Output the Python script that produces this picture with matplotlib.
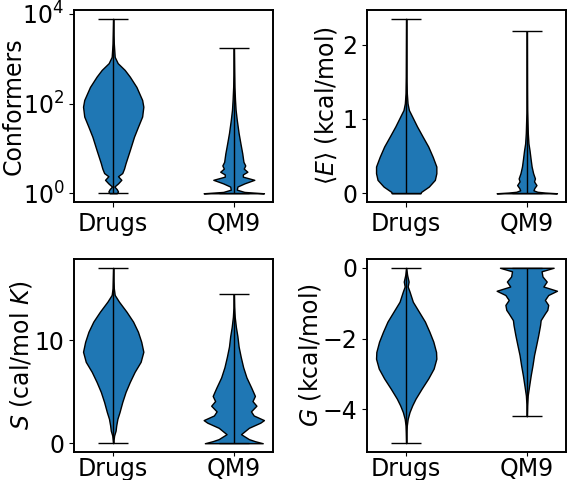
import numpy as np
import matplotlib
matplotlib.use("Agg")
import matplotlib.pyplot as plt

plt.rcParams['font.family'] = ['DejaVu Sans']
plt.rcParams['font.size'] = 17

categories = ["Drugs", "QM9"]

# --- Conformers (log10 of count) : density profiles ---
conf_drugs_y = [0.0, 0.04, 0.09, 0.15, 0.22, 0.30, 0.38, 0.45, 0.55, 0.67, 0.96, 1.26, 1.48,
                1.71, 1.93, 2.08, 2.37, 2.60, 2.75, 2.90, 3.04, 3.34, 3.60, 3.89]
conf_drugs_d = [0.12, 0.16, 0.12, 0.04, 0.16, 0.27, 0.16, 0.30, 0.36, 0.41, 0.55, 0.69, 0.82,
                0.96, 1.0, 0.96, 0.77, 0.55, 0.38, 0.15, 0.05, 0.02, 0.01, 0.0]
conf_qm9_y = [0.0, 0.03, 0.08, 0.15, 0.22, 0.30, 0.37, 0.42, 0.48, 0.55, 0.62, 0.70, 0.89,
              1.11, 1.34, 1.63, 1.86, 2.08, 2.38, 2.75, 3.23]
conf_qm9_d = [1.0, 0.35, 0.10, 0.12, 0.35, 0.68, 0.30, 0.30, 0.45, 0.33, 0.38, 0.32, 0.28,
              0.22, 0.16, 0.10, 0.06, 0.04, 0.02, 0.01, 0.0]

# --- <E> (kcal/mol) ---
e_drugs_y = [0.0, 0.02, 0.09, 0.18, 0.27, 0.36, 0.49, 0.63, 0.76, 0.90, 0.99, 1.08, 1.12,
             1.21, 1.35, 1.57, 2.35]
e_drugs_d = [0.47, 0.50, 0.75, 0.95, 1.0, 1.0, 0.88, 0.73, 0.55, 0.36, 0.25, 0.14, 0.09,
             0.045, 0.02, 0.01, 0.0]
e_qm9_y = [0.0, 0.01, 0.02, 0.04, 0.07, 0.11, 0.16, 0.20, 0.27, 0.36, 0.45, 0.58, 0.67,
           0.81, 0.99, 1.12, 1.40, 2.18]
e_qm9_d = [1.0, 0.6, 0.35, 0.22, 0.25, 0.32, 0.24, 0.27, 0.21, 0.16, 0.13, 0.09, 0.055,
           0.033, 0.02, 0.01, 0.005, 0.0]

# --- S (cal/mol K) ---
s_drugs_y = [0.0, 0.25, 0.74, 1.23, 1.72, 2.38, 3.03, 4.0, 4.99, 5.96, 6.94, 7.92, 8.9,
             9.87, 10.85, 11.83, 12.8, 13.78, 14.43, 15.08, 17.07]
s_drugs_d = [0.0, 0.01, 0.03, 0.08, 0.10, 0.14, 0.21, 0.30, 0.41, 0.55, 0.71, 0.91, 1.0,
             0.93, 0.82, 0.66, 0.44, 0.19, 0.05, 0.02, 0.0]
s_qm9_y = [0.0, 0.2, 0.4, 0.88, 1.5, 2.0, 2.25, 2.7, 3.1, 3.65, 4.1, 4.6, 5.4, 6.4, 7.4,
           8.4, 9.4, 10.4, 11.3, 12.3, 13.3, 14.47]
s_qm9_d = [0.96, 0.7, 0.5, 0.24, 0.5, 0.88, 1.0, 0.66, 0.57, 0.75, 0.62, 0.70, 0.58, 0.42,
           0.31, 0.23, 0.16, 0.12, 0.07, 0.03, 0.01, 0.0]

# --- G (kcal/mol) ---
g_drugs_y = [-4.96, -4.65, -4.46, -4.27, -4.08, -3.89, -3.70, -3.42, -3.13, -2.85, -2.57,
             -2.38, -2.09, -1.81, -1.52, -1.24, -0.96, -0.67, -0.53, -0.39, -0.20, 0.0]
g_drugs_d = [0.0, 0.01, 0.02, 0.05, 0.11, 0.20, 0.31, 0.51, 0.73, 0.91, 1.0, 0.99, 0.90,
             0.77, 0.62, 0.42, 0.22, 0.11, 0.05, 0.08, 0.03, 0.0]
g_qm9_y = [-4.2, -3.89, -3.61, -3.32, -3.04, -2.75, -2.47, -2.19, -1.9, -1.62, -1.48, -1.29,
           -1.19, -1.05, -0.91, -0.77, -0.65, -0.53, -0.39, -0.245, -0.1, 0.0]
g_qm9_d = [0.0, 0.01, 0.03, 0.08, 0.13, 0.19, 0.24, 0.31, 0.38, 0.44, 0.46, 0.60, 0.68,
           0.71, 0.60, 0.71, 1.0, 0.55, 0.66, 0.52, 0.49, 0.89]

panels = [
    (conf_drugs_y, conf_drugs_d, conf_qm9_y, conf_qm9_d, "Conformers",
     [0, 2, 4], ["$10^{0}$", "$10^{2}$", "$10^{4}$"]),
    (e_drugs_y, e_drugs_d, e_qm9_y, e_qm9_d, r"$\langle E\rangle$ (kcal/mol)",
     [0, 1, 2], ["0", "1", "2"]),
    (s_drugs_y, s_drugs_d, s_qm9_y, s_qm9_d, "$S$ (cal/mol $K$)",
     [0, 10], ["0", "10"]),
    (g_drugs_y, g_drugs_d, g_qm9_y, g_qm9_d, "$G$ (kcal/mol)",
     [-4, -2, 0], ["\u22124", "\u22122", "0"]),
]

W, H = 567, 480
fig = plt.figure(figsize=(W / 100, H / 100), dpi=100)
boxes = [(74, 10, 199, 192), (367, 10, 199, 192), (74, 259, 199, 193), (367, 259, 199, 193)]
label_x = [-0.245, -0.14, -0.20, -0.22]
xpads = [3.5, 3.5, 0.3, 0.3]
xlens = [3.5, 3.5, 3.0, 3.0]


def stats(y, d):
    y = np.asarray(y, float)
    d = np.asarray(d, float)
    peak = y[np.argmax(d)]
    return dict(coords=y, vals=d, mean=peak, median=peak, min=y.min(), max=y.max())


for (dy, dd, qy, qd, ylabel, ticks, ticklabels), (x0, y0, w, h), lx, xp, xl in zip(
        panels, boxes, label_x, xpads, xlens):
    ax = fig.add_axes([x0 / W, 1 - (y0 + h) / H, w / W, h / H])
    parts = ax.violin([stats(dy, dd), stats(qy, qd)], positions=[1, 2], widths=0.5)
    for b in parts['bodies']:
        b.set_facecolor('#1f77b4')
        b.set_edgecolor('black')
        b.set_linewidth(1.0)
        b.set_alpha(1)
    for key in ('cbars', 'cmins', 'cmaxes'):
        parts[key].set_color('black')
        parts[key].set_linewidth(1.0)
    ax.set_xticks([1, 2])
    ax.set_xticklabels(categories)
    ax.tick_params(axis='x', pad=xp, length=xl)
    ax.set_yticks(ticks)
    ax.set_yticklabels(ticklabels)
    ax.set_ylabel(ylabel)
    ax.yaxis.set_label_coords(lx, 0.5)
    for s in ax.spines.values():
        s.set_linewidth(1.4)

fig.savefig("out.png", dpi=100)
